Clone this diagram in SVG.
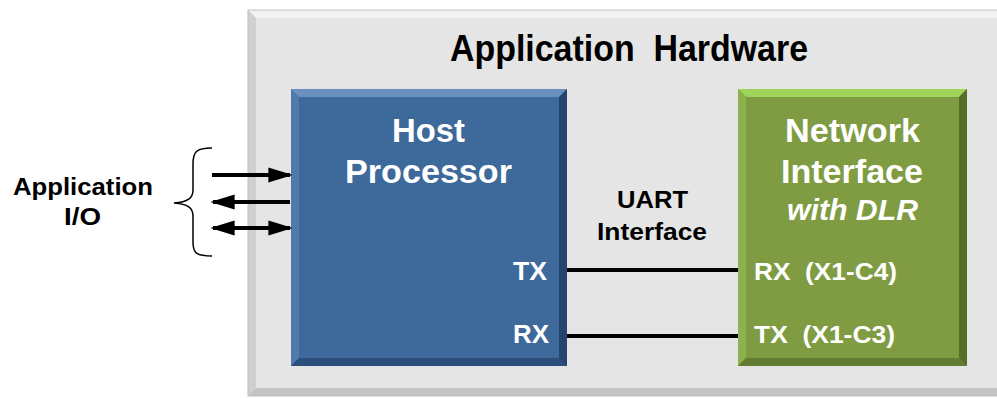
<svg xmlns="http://www.w3.org/2000/svg" width="997" height="398" viewBox="0 0 997 398">
<defs>
<style>
.t{font-family:"Liberation Sans",Arial,sans-serif;font-weight:bold;white-space:pre}
.w{fill:#fff}
.k{fill:#000}
.ln{stroke:#000;stroke-width:4;fill:none}
</style>
<marker id="ah" viewBox="0 0 10 10" refX="9" refY="5" markerWidth="6" markerHeight="3.8" orient="auto-start-reverse" markerUnits="strokeWidth" preserveAspectRatio="none">
<path d="M0,0 L10,5 L0,10 Z" fill="#000"/>
</marker>
</defs>
<rect width="997" height="398" fill="#fff"/>
<g id="app-hardware">
<rect x="248" y="10" width="760" height="386" fill="#e5e5e5"/>
<polygon points="248,10 1008,10 1000,18 256,18" fill="#f2f2f2"/>
<polygon points="248,10 256,18 256,388 248,396" fill="#d0d0d0"/>
<polygon points="248,396 256,388 1000,388 1008,396" fill="#c4c4c4"/>
<rect x="248" y="10" width="760" height="386" fill="none" stroke="#bdbdbd" stroke-width="1"/>
<text class="t k" x="450" y="61" font-size="36" textLength="358" lengthAdjust="spacingAndGlyphs" xml:space="preserve">Application  Hardware</text>
</g>
<g id="host">
<rect x="291" y="89" width="276" height="277" fill="#3d699b"/>
<polygon points="291,89 567,89 559,97 299,97" fill="#6a90bd"/>
<polygon points="291,89 299,97 299,358 291,366" fill="#4f7aaa"/>
<polygon points="567,89 567,366 559,358 559,97" fill="#24466e"/>
<polygon points="291,366 299,358 559,358 567,366" fill="#2b4f7a"/>
<text class="t w" x="392" y="142" font-size="34" textLength="73" lengthAdjust="spacingAndGlyphs">Host</text>
<text class="t w" x="345" y="183" font-size="34" textLength="167" lengthAdjust="spacingAndGlyphs">Processor</text>
<text class="t w" x="513" y="280" font-size="25" textLength="34" lengthAdjust="spacingAndGlyphs">TX</text>
<text class="t w" x="513" y="343" font-size="25" textLength="36" lengthAdjust="spacingAndGlyphs">RX</text>
</g>
<g id="network">
<rect x="738" y="89" width="229" height="277" fill="#7f9c43"/>
<polygon points="738,89 967,89 959,97 746,97" fill="#9fd45a"/>
<polygon points="738,89 746,97 746,358 738,366" fill="#8eb04e"/>
<polygon points="967,89 967,366 959,358 959,97" fill="#556e2a"/>
<polygon points="738,366 746,358 959,358 967,366" fill="#627c32"/>
<text class="t w" x="785" y="142" font-size="34" textLength="135" lengthAdjust="spacingAndGlyphs">Network</text>
<text class="t w" x="781" y="183" font-size="34" textLength="142" lengthAdjust="spacingAndGlyphs">Interface</text>
<text class="t w" x="787" y="220" font-size="29" font-style="italic" textLength="131" lengthAdjust="spacingAndGlyphs">with DLR</text>
<text class="t w" x="754" y="280" font-size="24" textLength="143" lengthAdjust="spacingAndGlyphs" xml:space="preserve">RX  (X1-C4)</text>
<text class="t w" x="754" y="343" font-size="24" textLength="141" lengthAdjust="spacingAndGlyphs" xml:space="preserve">TX  (X1-C3)</text>
</g>
<g id="uart-label">
<text class="t k" x="617" y="208" font-size="24" textLength="71" lengthAdjust="spacingAndGlyphs">UART</text>
<text class="t k" x="597" y="240" font-size="24" textLength="110" lengthAdjust="spacingAndGlyphs">Interface</text>
</g>
<g id="app-io">
<text class="t k" x="13" y="195" font-size="23" textLength="140" lengthAdjust="spacingAndGlyphs">Application</text>
<text class="t k" x="64" y="225" font-size="23" textLength="37" lengthAdjust="spacingAndGlyphs">I/O</text>
<path d="M212,148 C196,148 193,152 193,164 L193,190 C193,198 188,202 174,203 C188,204 193,208 193,216 L193,242 C193,253 196,256 212,256" fill="none" stroke="#000" stroke-width="1.5"/>
</g>
<g id="connectors">
<line class="ln" x1="212" y1="175" x2="290" y2="175" marker-end="url(#ah)"/>
<line class="ln" x1="290" y1="202" x2="213" y2="202" marker-end="url(#ah)"/>
<line class="ln" x1="213" y1="228" x2="290" y2="228" marker-start="url(#ah)" marker-end="url(#ah)"/>
<line class="ln" x1="567" y1="270" x2="738" y2="270"/>
<line class="ln" x1="567" y1="336" x2="738" y2="336"/>
</g>
</svg>
